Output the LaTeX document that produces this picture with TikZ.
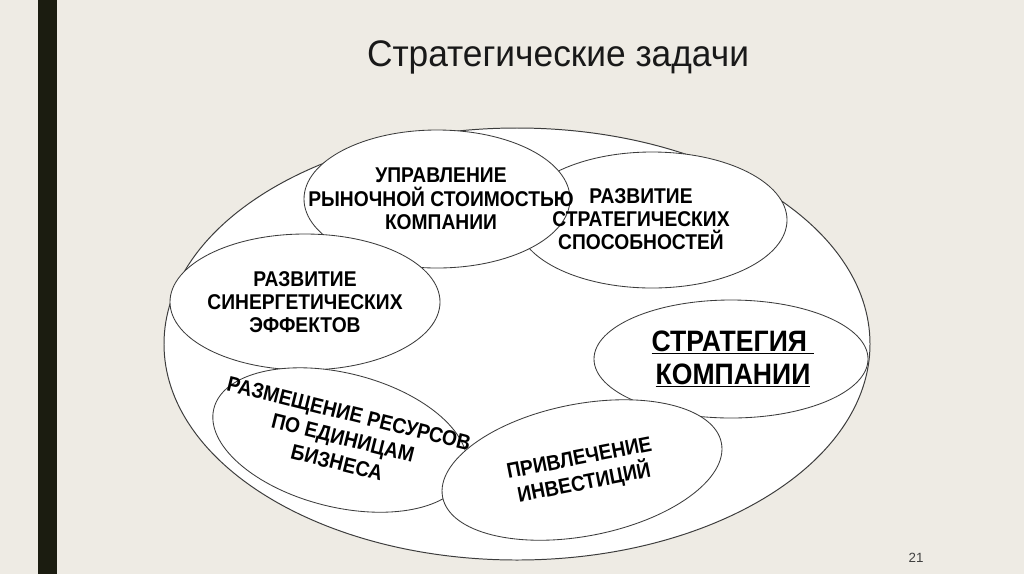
\documentclass[tikz,border=0pt]{standalone}
\usepackage{fontspec}
\setmainfont{Liberation Sans}
\newfontfamily\titlefont[FakeStretch=0.955]{Liberation Sans}
\newfontfamily\lblfont[FakeStretch=0.9]{Liberation Sans Bold}
\definecolor{paper}{RGB}{238,235,228}
\definecolor{barcol}{RGB}{27,28,16}
\definecolor{rim}{RGB}{60,60,60}

\begin{document}
\begin{tikzpicture} [x=0.025cm, y=-0.025cm,
  blob/.style={draw=rim, line width=0.6pt, fill=white},
  lbl/.style={font=\lblfont\fontsize{15.2}{16.6}\selectfont, align=center, inner sep=0, text=black},
  tilted/.style={lbl, font=\lblfont\fontsize{15.2}{18}\selectfont}]
\useasboundingbox (0,0) rectangle (1024,574);
\fill[paper] (0,0) rectangle (1024,574);
\fill[barcol] (38,0) rectangle (57,574);
\node[font=\titlefont\fontsize{26.3}{30}\selectfont, text=black!90] (title) at (558,57) {Стратегические задачи};
\node[font=\fontsize{9.5}{11}\selectfont, text=black!75] (page) at (916,558) {21};

% centres of the ellipses
\coordinate (whole) at (517,344);
\coordinate (spos) at (652,220);
\coordinate (upr) at (437,199);
\coordinate (syn) at (305,302);
\coordinate (strat) at (731,359);
\coordinate (razm) at (340,440);
\coordinate (inv) at (582,470);

\draw[blob, line width=0.7pt] (whole) ellipse [x radius=353, y radius=216];
\draw[blob] (spos) ellipse [x radius=135, y radius=68];
\draw[blob] (upr) ellipse [x radius=133, y radius=69];
\draw[blob] (syn) ellipse [x radius=135, y radius=68];
\draw[blob] (strat) ellipse [x radius=137, y radius=59];
\draw[blob, rotate around={-14:(razm)}] (razm) ellipse [x radius=130, y radius=67];
\draw[blob, rotate around={11:(inv)}] (inv) ellipse [x radius=142, y radius=66];

\node[lbl] (upr-t) at (441,199) {УПРАВЛЕНИЕ\\РЫНОЧНОЙ СТОИМОСТЬЮ\\КОМПАНИИ};
\node[lbl] (spos-t) at (641,219) {РАЗВИТИЕ\\СТРАТЕГИЧЕСКИХ\\СПОСОБНОСТЕЙ};
\node[lbl] (syn-t) at (305,302) {РАЗВИТИЕ\\СИНЕРГЕТИЧЕСКИХ\\ЭФФЕКТОВ};
\node[lbl, font=\lblfont\fontsize{21}{23.5}\selectfont] (strat-t) at (733,359)
  {\underline{СТРАТЕГИЯ\ }\\\underline{КОМПАНИИ}};
\node[tilted, rotate=-14] (razm-t) at (343,438) {РАЗМЕЩЕНИЕ РЕСУРСОВ\\ПО ЕДИНИЦАМ\\БИЗНЕСА};
\node[tilted, rotate=11] (inv-t) at (582,472) {ПРИВЛЕЧЕНИЕ\\ИНВЕСТИЦИЙ};
\end{tikzpicture}
\end{document}
